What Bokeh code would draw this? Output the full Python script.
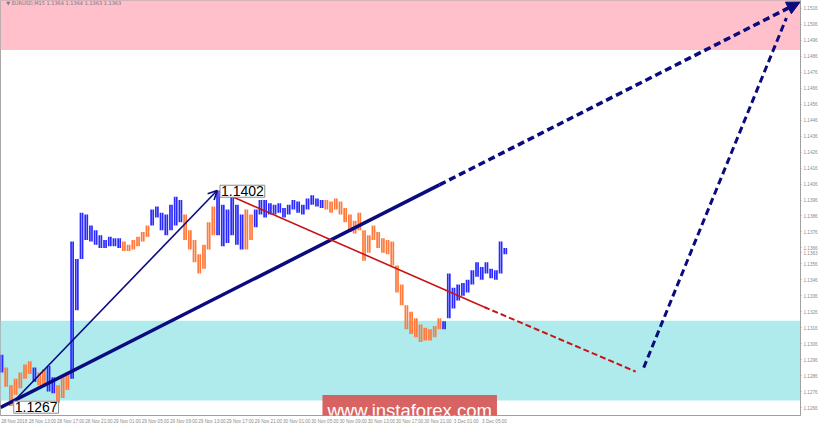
from bokeh.plotting import figure
from bokeh.models import (FixedTicker, Label, Arrow, NormalHead, OpenHead,
                          BoxAnnotation, ColumnDataSource, Range1d)
from bokeh.embed import file_html
from bokeh.resources import INLINE

# ---------------- data ----------------
bar_high = [1.1299, 1.1291, 1.1280, 1.1284, 1.1288, 1.1293, 1.1295, 1.1291, 1.1288, 1.1290,
            1.1292, 1.1285, 1.1280, 1.1285, 1.1288, 1.1370, 1.1359, 1.1388, 1.1387, 1.1380,
            1.1377, 1.1374, 1.1371, 1.1373, 1.1372, 1.1372, 1.1370, 1.1368, 1.1371, 1.1373,
            1.1376, 1.1380, 1.1390, 1.1392, 1.1388, 1.1387, 1.1393, 1.1398, 1.1396, 1.1387,
            1.1377, 1.1371, 1.1362, 1.1368, 1.1382, 1.1392, 1.1402, 1.1393, 1.1390, 1.1398,
            1.1393, 1.1387, 1.1390, 1.1387, 1.1390, 1.1396, 1.1396, 1.1394, 1.1393, 1.1394,
            1.1391, 1.1393, 1.1396, 1.1395, 1.1393, 1.1397, 1.1399, 1.1397, 1.1396, 1.1396,
            1.1395, 1.1397, 1.1395, 1.1391, 1.1387, 1.1383, 1.1388, 1.1377, 1.1374, 1.1380,
            1.1376, 1.1372, 1.1371, 1.1370, 1.1355, 1.1343, 1.1330, 1.1326, 1.1322, 1.1318,
            1.1316, 1.1315, 1.1317, 1.1322, 1.1320, 1.1350, 1.1341, 1.1343, 1.1344, 1.1346,
            1.1352, 1.1357, 1.1354, 1.1357, 1.1353, 1.1352, 1.1370, 1.1366]
bar_low = [1.1288, 1.1279, 1.1267, 1.1274, 1.1278, 1.1284, 1.1287, 1.1282, 1.1280, 1.1280,
           1.1276, 1.1275, 1.1269, 1.1272, 1.1277, 1.1284, 1.1327, 1.1359, 1.1371, 1.1370,
           1.1368, 1.1366, 1.1366, 1.1367, 1.1367, 1.1366, 1.1364, 1.1364, 1.1365, 1.1367,
           1.1370, 1.1373, 1.1380, 1.1385, 1.1377, 1.1374, 1.1377, 1.1380, 1.1382, 1.1371,
           1.1365, 1.1357, 1.1350, 1.1353, 1.1365, 1.1374, 1.1374, 1.1367, 1.1369, 1.1374,
           1.1368, 1.1365, 1.1365, 1.1371, 1.1379, 1.1387, 1.1385, 1.1387, 1.1387, 1.1388,
           1.1385, 1.1387, 1.1390, 1.1388, 1.1387, 1.1390, 1.1393, 1.1392, 1.1391, 1.1390,
           1.1388, 1.1390, 1.1387, 1.1382, 1.1376, 1.1375, 1.1377, 1.1358, 1.1363, 1.1371,
           1.1366, 1.1363, 1.1362, 1.1355, 1.1338, 1.1330, 1.1315, 1.1312, 1.1310, 1.1307,
           1.1308, 1.1308, 1.1310, 1.1315, 1.1315, 1.1322, 1.1328, 1.1333, 1.1336, 1.1338,
           1.1343, 1.1348, 1.1346, 1.1350, 1.1347, 1.1346, 1.1350, 1.1362]
bar_dir = ("b" "oooooo" "b" "oo" "bb" "ooo" "bbbbbbbbbbb" "oooooo" "bbbbbbb"
           "ooooooo" "bbbbbb" "oo" "bbbbbbbbbbbbbbb"
           "ooooooooooooooooooooooooo" "bbbbbbbbbbbbbb")

time_labels = ["28 Nov 2018", "28 Nov 13:00", "28 Nov 17:00", "28 Nov 21:00",
               "29 Nov 01:00", "29 Nov 05:00", "29 Nov 09:00", "29 Nov 13:00",
               "29 Nov 17:00", "29 Nov 21:00", "30 Nov 01:00", "30 Nov 05:00",
               "30 Nov 09:00", "30 Nov 13:00", "30 Nov 17:00", "30 Nov 21:00",
               "3 Dec 01:00", "3 Dec 05:00"]
bars_per_label = 6
price_ticks = [1.1266, 1.1276, 1.1286, 1.1296, 1.1306, 1.1316, 1.1326, 1.1336, 1.1346,
               1.1356, 1.1366, 1.1376, 1.1386, 1.1396, 1.1406, 1.1416, 1.1426, 1.1436,
               1.1446, 1.1456, 1.1466, 1.1476, 1.1486, 1.1496, 1.1506, 1.1516]

resist_zone = (1.1490, 1.1530)
support_zone = (1.12704, 1.13204)

impulse_x = [2.33, 45.8]
impulse_y = [1.1269, 1.1402]
trend_x = [-0.2, 93.0, 169.6]
trend_y = [1.1266, 1.14055, 1.1520]
corr_x = [46.8, 102.5, 134.7]
corr_y = [1.1401, 1.1329, 1.12885]
fcst_x = [136.4, 166.7]
fcst_y = [1.1291, 1.1510]

low_label = ("1.1267", 2.6, 1.12662)
high_label = ("1.1402", 46.4, 1.14015)
last_price = 1.1363
header = "\u25BC EURUSD,M15  1.1364 1.1364 1.1363 1.1363"

# ---------------- figure ----------------
BLUE = "#2a2aff"
ORANGE = "#ff7a3c"
NAVY = "#0b0b80"
RED = "#c81414"

p = figure(width=820, height=426, output_backend="svg", toolbar_location=None,
           x_range=Range1d(-0.21, 169.7), y_range=Range1d(1.1261, 1.1521),
           y_axis_location="right", min_border_left=0, min_border_top=0,
           min_border_right=18, min_border_bottom=10,
           background_fill_color="white", border_fill_color="white",
           styles={"position": "absolute", "left": "0px", "top": "0px"})
p.grid.visible = False
p.outline_line_color = "#a8a8a8"

p.add_layout(BoxAnnotation(bottom=resist_zone[0], top=resist_zone[1], fill_color="#ffc0cb",
                           fill_alpha=1, line_alpha=0, level="underlay"))
p.add_layout(BoxAnnotation(bottom=support_zone[0], top=support_zone[1], fill_color="#afeaec",
                           fill_alpha=1, line_alpha=0, level="underlay"))

colors = [BLUE if c == "b" else ORANGE for c in bar_dir[:len(bar_high)]]
xs = list(range(len(bar_high)))
for off in (-0.22, 0.22):
    src = ColumnDataSource(dict(x=[i + off for i in xs], high=bar_high, low=bar_low, color=colors))
    p.segment(x0="x", y0="low", x1="x", y1="high", line_color="color", line_width=1.7, source=src)

# wave lines
p.line(impulse_x, impulse_y, line_color=NAVY, line_width=1.6)
p.add_layout(Arrow(end=OpenHead(size=9, line_color=NAVY, line_width=1.6),
                   x_start=impulse_x[0], y_start=impulse_y[0],
                   x_end=impulse_x[1], y_end=impulse_y[1], line_alpha=0))

p.line(trend_x[:2], trend_y[:2], line_color=NAVY, line_width=3.5)
p.add_layout(Arrow(end=NormalHead(size=13, fill_color=NAVY, line_color=NAVY),
                   x_start=trend_x[1], y_start=trend_y[1], x_end=trend_x[2], y_end=trend_y[2],
                   line_color=NAVY, line_width=3.5, line_dash="7 4"))

p.line(corr_x[:2], corr_y[:2], line_color=RED, line_width=1.6)
p.line(corr_x[1:], corr_y[1:], line_color=RED, line_width=2, line_dash="6 3")

p.line(fcst_x, fcst_y, line_color=NAVY, line_width=3, line_dash="7 4")

for txt, lx, ly in (low_label, high_label):
    p.add_layout(Label(x=lx, y=ly, text=txt, text_font="Liberation Sans",
                       text_font_size="14px", text_color="black", text_align="left",
                       text_baseline="middle", background_fill_color="white",
                       border_line_color="#8c8c8c", padding=1))

p.add_layout(Label(x=1.0, y=1.15195, text=header, text_font="DejaVu Sans",
                   text_font_size="5px", text_color="#777777", text_baseline="middle"))

p.add_layout(Label(x=86.7, y=1.12641, text="www.instaforex.com", text_font="Liberation Sans",
                   text_font_size="18.5px", text_color="white", text_align="center",
                   text_baseline="middle", background_fill_color="#d65656",
                   background_fill_alpha=0.92, padding=5))

# axes
ya = p.yaxis[0]
y_ticks = price_ticks + [last_price]
ya.ticker = FixedTicker(ticks=y_ticks)
ya.major_label_overrides = {t: f"{t:.4f}" for t in y_ticks}
label_shift = 2.7
xa = p.xaxis[0]
xa.ticker = FixedTicker(ticks=[bars_per_label * k + label_shift for k in range(len(time_labels))])
xa.major_label_overrides = {bars_per_label * k + label_shift: s for k, s in enumerate(time_labels)}
for ax in (xa, ya):
    ax.axis_line_color = "#a0a0a0"
    ax.major_tick_line_color = "#a0a0a0"
    ax.major_tick_out = 1
    ax.major_tick_in = 0
    ax.minor_tick_line_color = None
    ax.major_label_text_font = "Liberation Sans"
    ax.major_label_text_font_size = "4.6px"
    ax.major_label_text_color = "#8a8a8a"
    ax.major_label_standoff = 2
xa.major_tick_line_color = None

open("out.html", "w").write(file_html(p, INLINE))
